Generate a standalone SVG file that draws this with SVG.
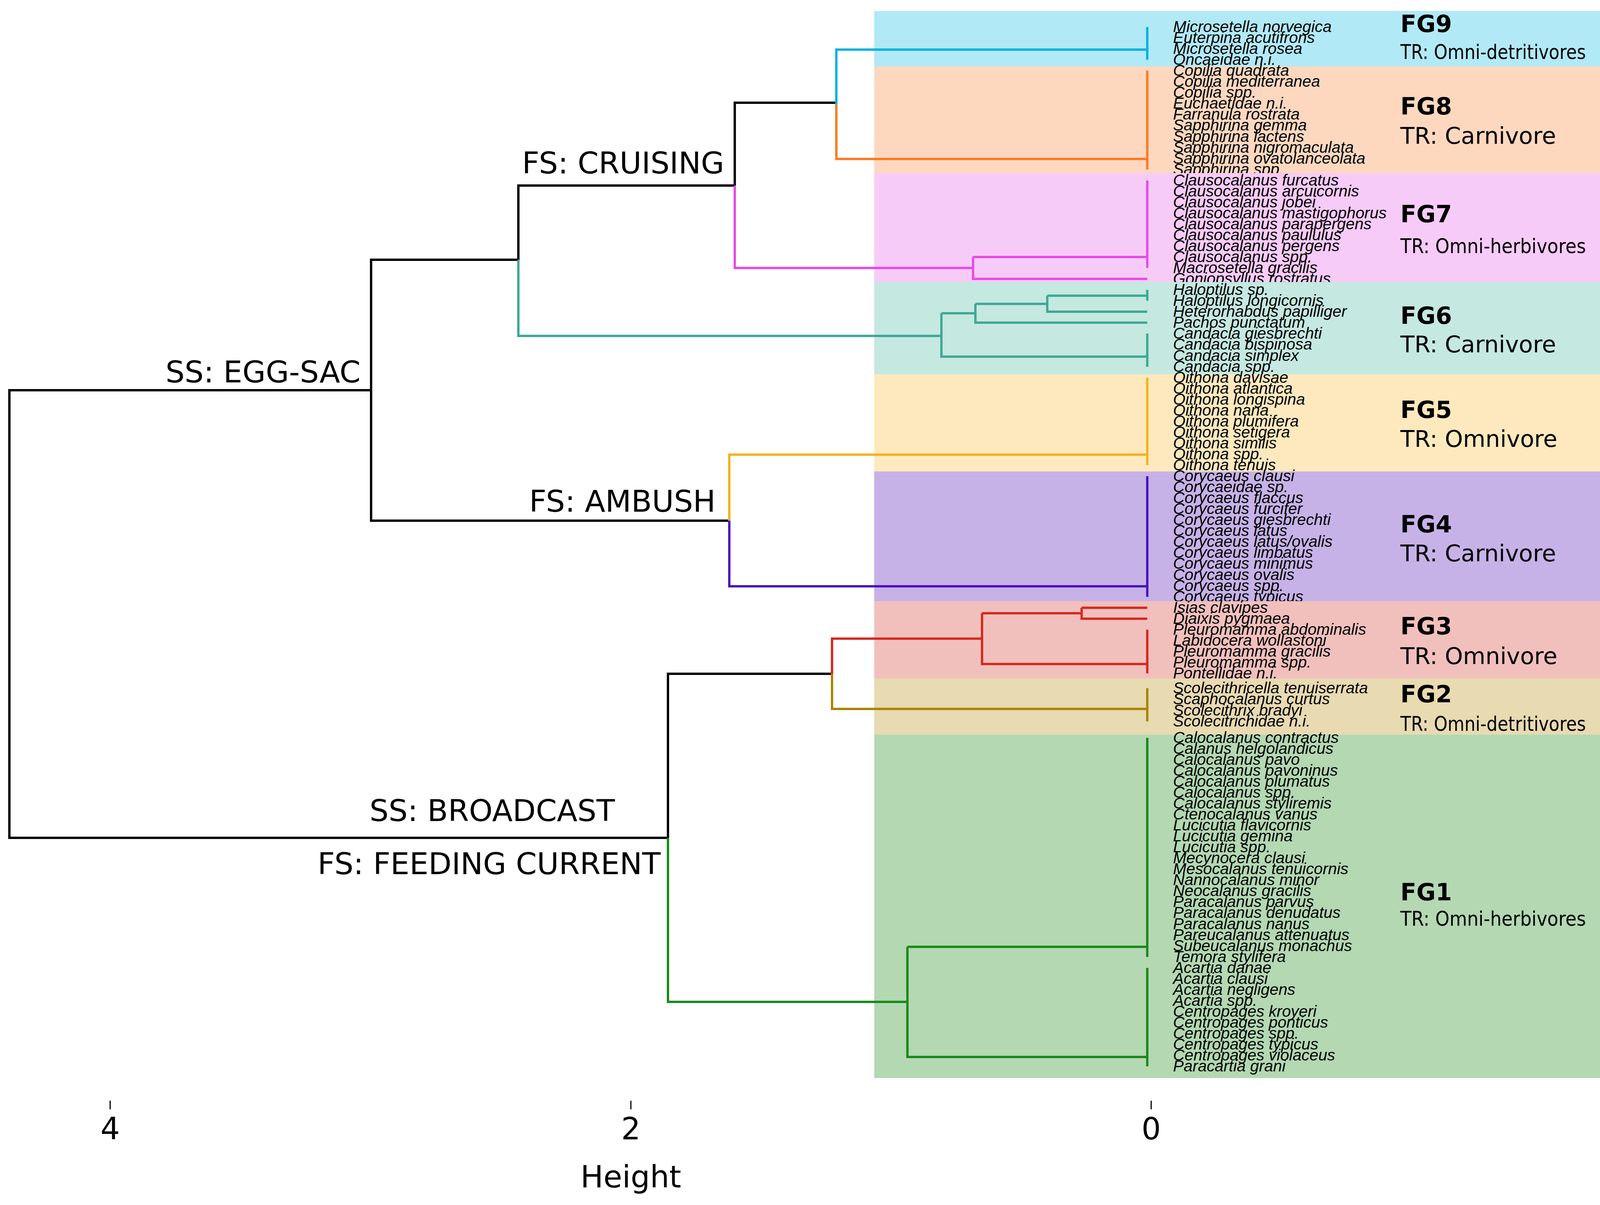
<svg xmlns="http://www.w3.org/2000/svg" width="4255" height="3085" viewBox="0 0 4255 3085">
<style>
.sp{font-family:"Liberation Sans",Arial,sans-serif;font-style:italic;font-size:40.8px;fill:#000}
.fg{font-family:"DejaVu Sans",Verdana,sans-serif;font-weight:bold;font-size:60px;fill:#000}
.tr{font-family:"DejaVu Sans",Verdana,sans-serif;font-size:59px;fill:#000}
.tl{font-family:"DejaVu Sans",Verdana,sans-serif;font-size:52px;fill:#000}
.br{font-family:"DejaVu Sans",Verdana,sans-serif;font-size:77px;fill:#000;text-anchor:end}
.ax{font-family:"DejaVu Sans",Verdana,sans-serif;font-size:78px;fill:#000;text-anchor:middle}
.ln{fill:none;stroke-width:6;stroke-linecap:butt;stroke-linejoin:miter}
.k{stroke:#000}.c9{stroke:#00b2df}.c8{stroke:#ff7a22}.c7{stroke:#e84be8}.c6{stroke:#3ea995}
.c5{stroke:#f4b21e}.c4{stroke:#4a14bd}.c3{stroke:#d62a1f}.c2{stroke:#a88600}.c1{stroke:#1b8a1b}
</style>
<rect width="4255" height="3085" fill="#fff"/>
<g id="FG9">
<rect x="2238" y="28" width="1995" height="142" fill="#b2e9f7"/>
<text class="fg" x="3585" y="82">FG9</text>
<text class="tl" x="3585" y="151" textLength="475" lengthAdjust="spacingAndGlyphs">TR: Omni-detritivores</text>
<text class="sp"><tspan x="3003" y="82">Microsetella norvegica</tspan><tspan x="3003" y="110">Euterpina acutifrons</tspan><tspan x="3003" y="138">Microsetella rosea</tspan><tspan x="3003" y="166">Oncaeidae n.i.</tspan></text>
</g>
<g id="FG8">
<rect x="2238" y="170" width="1995" height="273" fill="#fdd8bf"/>
<text class="fg" x="3585" y="293">FG8</text>
<text class="tr" x="3585" y="368">TR: Carnivore</text>
<text class="sp"><tspan x="3003" y="194">Copilia quadrata</tspan><tspan x="3003" y="222">Copilia mediterranea</tspan><tspan x="3003" y="250">Copilia spp.</tspan><tspan x="3003" y="278">Euchaetidae n.i.</tspan><tspan x="3003" y="306">Farranula rostrata</tspan><tspan x="3003" y="334">Sapphirina gemma</tspan><tspan x="3003" y="363">Sapphirina lactens</tspan><tspan x="3003" y="391">Sapphirina nigromaculata</tspan><tspan x="3003" y="419">Sapphirina ovatolanceolata</tspan><tspan x="3003" y="447">Sapphirina spp.</tspan></text>
</g>
<g id="FG7">
<rect x="2238" y="443" width="1995" height="279" fill="#f7cbf7"/>
<text class="fg" x="3585" y="569">FG7</text>
<text class="tl" x="3585" y="648" textLength="475" lengthAdjust="spacingAndGlyphs">TR: Omni-herbivores</text>
<text class="sp"><tspan x="3003" y="475">Clausocalanus furcatus</tspan><tspan x="3003" y="503">Clausocalanus arcuicornis</tspan><tspan x="3003" y="531">Clausocalanus jobei</tspan><tspan x="3003" y="559">Clausocalanus mastigophorus</tspan><tspan x="3003" y="587">Clausocalanus parapergens</tspan><tspan x="3003" y="615">Clausocalanus paululus</tspan><tspan x="3003" y="643">Clausocalanus pergens</tspan><tspan x="3003" y="671">Clausocalanus spp.</tspan><tspan x="3003" y="699">Macrosetella gracilis</tspan><tspan x="3003" y="727">Goniopsyllus rostratus</tspan></text>
</g>
<g id="FG6">
<rect x="2238" y="722" width="1995" height="236" fill="#c5e8e0"/>
<text class="fg" x="3585" y="829">FG6</text>
<text class="tr" x="3585" y="902">TR: Carnivore</text>
<text class="sp"><tspan x="3003" y="755">Haloptilus sp.</tspan><tspan x="3003" y="783">Haloptilus longicornis</tspan><tspan x="3003" y="811">Heterorhabdus papilliger</tspan><tspan x="3003" y="839">Pachos punctatum</tspan><tspan x="3003" y="867">Candacia giesbrechti</tspan><tspan x="3003" y="895">Candacia bispinosa</tspan><tspan x="3003" y="924">Candacia simplex</tspan><tspan x="3003" y="952">Candacia spp.</tspan></text>
</g>
<g id="FG5">
<rect x="2238" y="958" width="1995" height="249" fill="#fde9bd"/>
<text class="fg" x="3585" y="1070">FG5</text>
<text class="tr" x="3585" y="1144">TR: Omnivore</text>
<text class="sp"><tspan x="3003" y="980">Oithona davisae</tspan><tspan x="3003" y="1008">Oithona atlantica</tspan><tspan x="3003" y="1036">Oithona longispina</tspan><tspan x="3003" y="1064">Oithona nana</tspan><tspan x="3003" y="1092">Oithona plumifera</tspan><tspan x="3003" y="1120">Oithona setigera</tspan><tspan x="3003" y="1148">Oithona similis</tspan><tspan x="3003" y="1176">Oithona spp.</tspan><tspan x="3003" y="1204">Oithona tenuis</tspan></text>
</g>
<g id="FG4">
<rect x="2238" y="1207" width="1995" height="332" fill="#c6b2e7"/>
<text class="fg" x="3585" y="1363">FG4</text>
<text class="tr" x="3585" y="1437">TR: Carnivore</text>
<text class="sp"><tspan x="3003" y="1232">Corycaeus clausi</tspan><tspan x="3003" y="1260">Corycaeidae sp.</tspan><tspan x="3003" y="1288">Corycaeus flaccus</tspan><tspan x="3003" y="1316">Corycaeus furcifer</tspan><tspan x="3003" y="1344">Corycaeus giesbrechti</tspan><tspan x="3003" y="1372">Corycaeus latus</tspan><tspan x="3003" y="1400">Corycaeus latus/ovalis</tspan><tspan x="3003" y="1428">Corycaeus limbatus</tspan><tspan x="3003" y="1456">Corycaeus minimus</tspan><tspan x="3003" y="1485">Corycaeus ovalis</tspan><tspan x="3003" y="1513">Corycaeus spp.</tspan><tspan x="3003" y="1541">Corycaeus typicus</tspan></text>
</g>
<g id="FG3">
<rect x="2238" y="1539" width="1995" height="198" fill="#f1c0bd"/>
<text class="fg" x="3585" y="1624">FG3</text>
<text class="tr" x="3585" y="1700">TR: Omnivore</text>
<text class="sp"><tspan x="3003" y="1569">Isias clavipes</tspan><tspan x="3003" y="1597">Diaixis pygmaea</tspan><tspan x="3003" y="1625">Pleuromamma abdominalis</tspan><tspan x="3003" y="1653">Labidocera wollastoni</tspan><tspan x="3003" y="1681">Pleuromamma gracilis</tspan><tspan x="3003" y="1709">Pleuromamma spp.</tspan><tspan x="3003" y="1737">Pontellidae n.i.</tspan></text>
</g>
<g id="FG2">
<rect x="2238" y="1737" width="1995" height="144" fill="#e8dab1"/>
<text class="fg" x="3585" y="1798">FG2</text>
<text class="tl" x="3585" y="1871" textLength="475" lengthAdjust="spacingAndGlyphs">TR: Omni-detritivores</text>
<text class="sp"><tspan x="3003" y="1775">Scolecithricella tenuiserrata</tspan><tspan x="3003" y="1803">Scaphocalanus curtus</tspan><tspan x="3003" y="1832">Scolecithrix bradyi</tspan><tspan x="3003" y="1860">Scolecitrichidae n.i.</tspan></text>
</g>
<g id="FG1">
<rect x="2238" y="1881" width="1995" height="879" fill="#b3d8b2"/>
<text class="fg" x="3585" y="2305">FG1</text>
<text class="tl" x="3585" y="2370" textLength="475" lengthAdjust="spacingAndGlyphs">TR: Omni-herbivores</text>
<text class="sp"><tspan x="3003" y="1902">Calocalanus contractus</tspan><tspan x="3003" y="1930">Calanus helgolandicus</tspan><tspan x="3003" y="1958">Calocalanus pavo</tspan><tspan x="3003" y="1986">Calocalanus pavoninus</tspan><tspan x="3003" y="2014">Calocalanus plumatus</tspan><tspan x="3003" y="2042">Calocalanus spp.</tspan><tspan x="3003" y="2070">Calocalanus styliremis</tspan><tspan x="3003" y="2098">Ctenocalanus vanus</tspan><tspan x="3003" y="2126">Lucicutia flavicornis</tspan><tspan x="3003" y="2154">Lucicutia gemina</tspan><tspan x="3003" y="2182">Lucicutia spp.</tspan><tspan x="3003" y="2210">Mecynocera clausi</tspan><tspan x="3003" y="2238">Mesocalanus tenuicornis</tspan><tspan x="3003" y="2266">Nannocalanus minor</tspan><tspan x="3003" y="2294">Neocalanus gracilis</tspan><tspan x="3003" y="2322">Paracalanus parvus</tspan><tspan x="3003" y="2350">Paracalanus denudatus</tspan><tspan x="3003" y="2379">Paracalanus nanus</tspan><tspan x="3003" y="2407">Pareucalanus attenuatus</tspan><tspan x="3003" y="2435">Subeucalanus monachus</tspan><tspan x="3003" y="2463">Temora stylifera</tspan><tspan x="3003" y="2491">Acartia danae</tspan><tspan x="3003" y="2519">Acartia clausi</tspan><tspan x="3003" y="2547">Acartia negligens</tspan><tspan x="3003" y="2575">Acartia spp.</tspan><tspan x="3003" y="2603">Centropages kroyeri</tspan><tspan x="3003" y="2631">Centropages ponticus</tspan><tspan x="3003" y="2659">Centropages spp.</tspan><tspan x="3003" y="2687">Centropages typicus</tspan><tspan x="3003" y="2715">Centropages violaceus</tspan><tspan x="3003" y="2743">Paracartia grani</tspan></text>
</g>
<g id="connectors">
<path class="ln k" d="M950,999H24V2145H1710"/>
<path class="ln k" d="M1327,665H950V1333H1867"/>
<path class="ln k" d="M1327,665V475H1881V263H2141"/>
<path class="ln c6" d="M1327,665V860H2410"/>
<path class="ln c9" d="M2141,267V127H2937M2937,69V153"/>
<path class="ln c8" d="M2141,267V407H2937M2937,181V434"/>
<path class="ln c7" d="M1881,475V686H2491M2491,658V714H2937M2491,658H2937M2937,462V686"/>
<path class="ln c6" d="M2410,802V913H2937M2937,854V939M2410,802H2497M2497,778V826H2937M2497,778H2681M2681,757V798H2937M2681,757H2937M2937,742V770"/>
<path class="ln c5" d="M1867,1333V1164H2937M2937,967V1191"/>
<path class="ln c4" d="M1867,1333V1501H2937M2937,1219V1528"/>
<path class="ln k" d="M1710,2145V1725H2130"/>
<path class="ln c3" d="M2130,1725V1635H2514M2514,1570V1700H2937M2937,1612V1724M2514,1570H2769M2769,1556V1584H2937M2769,1556H2937"/>
<path class="ln c2" d="M2130,1725V1815H2937M2937,1762V1847"/>
<path class="ln c1" d="M1710,2145V2565H2323M2323,2424V2706H2937M2937,2478V2730M2323,2424H2937M2937,1889V2450"/>
</g>
<g id="branch-labels">
<text class="br" x="923" y="979">SS: EGG-SAC</text>
<text class="br" x="1854" y="444">FS: CRUISING</text>
<text class="br" x="1832" y="1310">FS: AMBUSH</text>
<text class="br" x="1574" y="2102">SS: BROADCAST</text>
<text class="br" x="1691" y="2238">FS: FEEDING CURRENT</text>
</g>
<g id="axis">
<path d="M282,2818V2840M1615,2818V2840M2947,2818V2840" stroke="#000" stroke-width="3"/>
<text class="ax" x="282" y="2917">4</text>
<text class="ax" x="1615" y="2917">2</text>
<text class="ax" x="2947" y="2917">0</text>
<text class="ax" x="1615" y="3040">Height</text>
</g>
</svg>
